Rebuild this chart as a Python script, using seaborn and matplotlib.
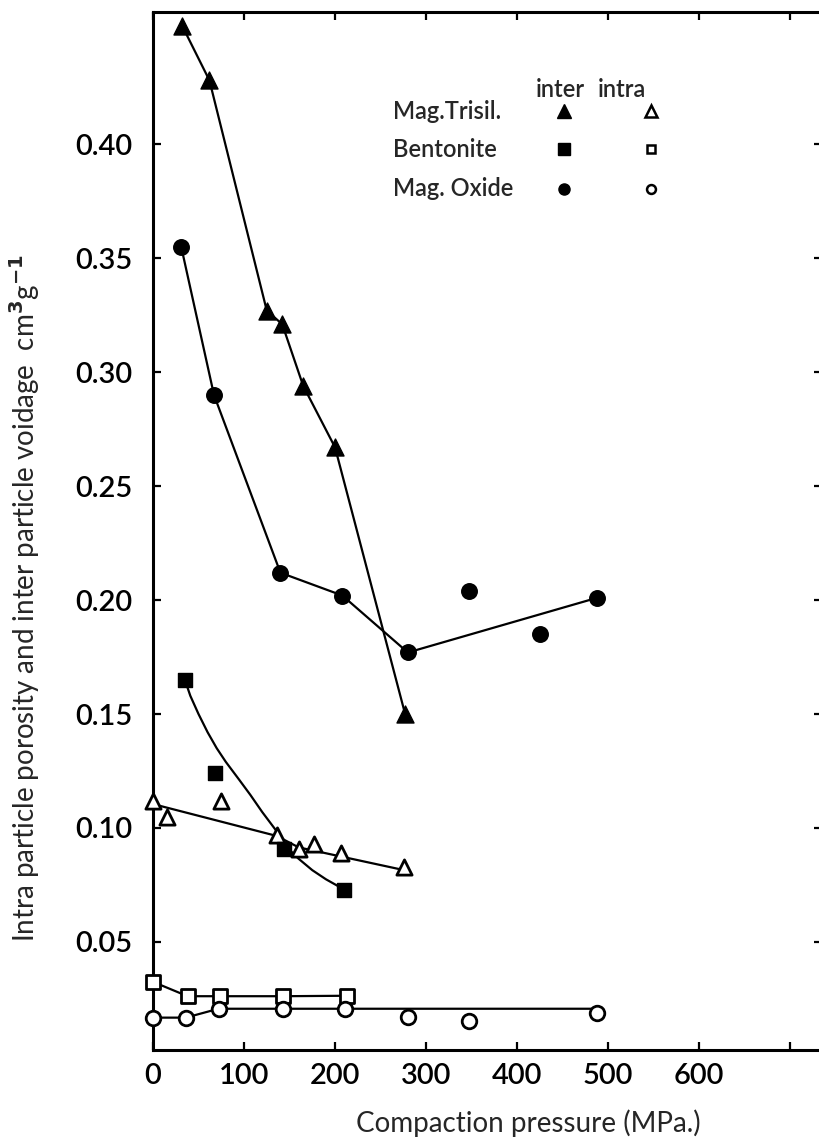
import numpy as np
import pandas as pd
import matplotlib.pyplot as plt
import seaborn as sns

# Mag. Trisil. (inter = filled triangle, intra = open triangle)
trisil_inter_x = [32, 62, 125, 142, 165, 200, 277]
trisil_inter_y = [0.452, 0.428, 0.327, 0.321, 0.294, 0.267, 0.150]
trisil_intra_x = [0, 15, 75, 136, 160, 177, 207, 276]
trisil_intra_y = [0.112, 0.105, 0.112, 0.097, 0.091, 0.093, 0.089, 0.083]
trisil_intra_fit_x = [0, 136, 160, 276]
trisil_intra_fit_y = [0.1105, 0.0965, 0.0915, 0.0815]

# Bentonite (inter = filled square, intra = open square)
bent_inter_x = [35, 68, 144, 210]
bent_inter_y = [0.165, 0.124, 0.091, 0.073]
bent_inter_fit_x = [35, 41, 50, 60, 70, 80, 95, 107, 120, 136, 146, 160, 175, 190, 210]
bent_inter_fit_y = [0.165, 0.158, 0.150, 0.142, 0.135, 0.129, 0.121, 0.1145, 0.107,
                    0.0985, 0.092, 0.0865, 0.0815, 0.0775, 0.073]
bent_intra_x = [0, 38, 74, 143, 213]
bent_intra_y = [0.0325, 0.0262, 0.0262, 0.0262, 0.0264]

# Mag. Oxide (inter = filled circle, intra = open circle)
oxide_inter_x = [31, 67, 140, 208, 280, 347, 425, 488]
oxide_inter_y = [0.355, 0.290, 0.212, 0.202, 0.177, 0.204, 0.185, 0.201]
oxide_inter_fit_x = [31, 67, 140, 208, 280, 488]
oxide_inter_fit_y = [0.355, 0.290, 0.212, 0.202, 0.177, 0.201]
oxide_intra_x = [0, 36, 72, 143, 211, 280, 347, 488]
oxide_intra_y = [0.0168, 0.0168, 0.0207, 0.0207, 0.0207, 0.0170, 0.0155, 0.0190]
oxide_intra_fit_x = [0, 36, 72, 488]
oxide_intra_fit_y = [0.0168, 0.0168, 0.0207, 0.0207]

xticks = [0, 100, 200, 300, 400, 500, 600, 700]
xticklabels = ["0", "100", "200", "300", "400", "500", "600", ""]
yticks = [0.05, 0.10, 0.15, 0.20, 0.25, 0.30, 0.35, 0.40]
yticklabels = ["0.05", "0.10", "0.15", "0.20", "0.25", "0.30", "0.35", "0.40"]

sns.set_theme(style="ticks")
plt.rcParams['font.family'] = ['Lato', 'DejaVu Sans']
plt.rcParams['font.weight'] = 'semibold'
plt.rcParams['mathtext.fontset'] = 'dejavusans'

fig = plt.figure(figsize=(8.19, 11.37), dpi=100)
# right spine sits just past the picture edge, only its inward ticks show
ax = fig.add_axes([153 / 819, 87 / 1137, 669 / 819, 1038 / 1137])

line_kw = dict(color="black", lw=1.6, sort=False, estimator=None, ax=ax)
sns.lineplot(x=trisil_inter_x, y=trisil_inter_y, **line_kw)
sns.lineplot(x=trisil_intra_fit_x, y=trisil_intra_fit_y, **line_kw)
sns.lineplot(x=bent_inter_fit_x, y=bent_inter_fit_y, **line_kw)
sns.lineplot(x=bent_intra_x, y=bent_intra_y, **line_kw)
sns.lineplot(x=oxide_inter_fit_x, y=oxide_inter_fit_y, **line_kw)
sns.lineplot(x=oxide_intra_fit_x, y=oxide_intra_fit_y, **line_kw)

filled = dict(color="black", edgecolor="black", linewidth=1, clip_on=False, zorder=5, ax=ax)
hollow = dict(color="white", edgecolor="black", linewidth=2, clip_on=False, zorder=5, ax=ax)
sns.scatterplot(x=trisil_inter_x, y=trisil_inter_y, marker="^", s=150, **filled)
sns.scatterplot(x=trisil_intra_x, y=trisil_intra_y, marker="^", s=120, **hollow)
sns.scatterplot(x=bent_inter_x, y=bent_inter_y, marker="s", s=110, **filled)
sns.scatterplot(x=bent_intra_x, y=bent_intra_y, marker="s", s=110, **hollow)
sns.scatterplot(x=oxide_inter_x, y=oxide_inter_y, marker="o", s=125, **filled)
sns.scatterplot(x=oxide_intra_x, y=oxide_intra_y, marker="o", s=110, **hollow)

ax.set_xlim(0, 735)
ax.set_ylim(0.0026, 0.458)
ax.set_xticks(xticks)
ax.set_xticklabels(xticklabels)
ax.set_yticks(yticks)
ax.set_yticklabels(yticklabels)
ax.tick_params(direction="in", length=6, width=1.6, top=True, right=True,
               labelsize=21, colors="black")
ax.tick_params(axis="y", pad=15)
ax.tick_params(axis="x", pad=9)
for sp in ax.spines.values():
    sp.set_linewidth(2.2)
    sp.set_color("black")
ax.spines["right"].set_visible(False)

ax.set_xlabel("Compaction pressure (MPa.)", fontsize=20)
ax.xaxis.set_label_coords(0.561, -0.057)
ax.set_ylabel(r"Intra particle porosity and inter particle voidage  cm$^3$g$^{-1}$", fontsize=20)
ax.yaxis.set_label_coords(-0.166, 0.435)

# key in the upper right
ax.text(0.609, 0.925, "inter", transform=ax.transAxes, ha="center", va="center", fontsize=17)
ax.text(0.701, 0.925, "intra", transform=ax.transAxes, ha="center", va="center", fontsize=17)
key_names = ["Mag.Trisil.", "Bentonite", "Mag. Oxide"]
key_markers = ["^", "s", "o"]
key_sizes = [10, 8, 8]
key_rows = [0.9046, 0.868, 0.8295]
for name, mk, ms, yy in zip(key_names, key_markers, key_sizes, key_rows):
    ax.text(0.359, yy, name, transform=ax.transAxes, ha="left", va="center", fontsize=17)
    ax.plot([0.614], [yy], marker=mk, ms=ms, color="black", transform=ax.transAxes, clip_on=False)
    ax.plot([0.744], [yy], marker=mk, ms=ms * 0.8, mfc="white", mec="black", mew=1.8,
            transform=ax.transAxes, clip_on=False)

fig.savefig("out.png", dpi=100)
